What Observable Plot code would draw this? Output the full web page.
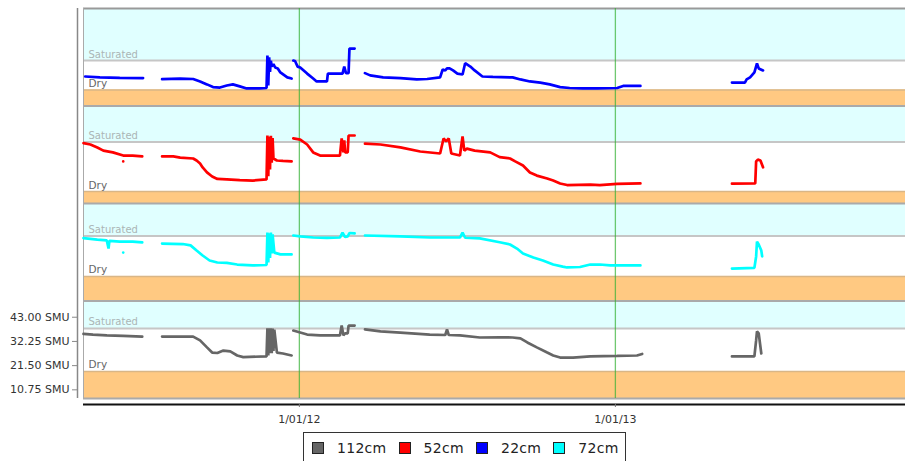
<!DOCTYPE html>
<html><head><meta charset="utf-8">
<script src="https://cdn.jsdelivr.net/npm/d3@7"></script>
<script src="https://cdn.jsdelivr.net/npm/@observablehq/plot@0.6"></script>
<style>
html,body{margin:0;padding:0;background:#fff;overflow:hidden;}
#wrap{position:relative;width:905px;height:461px;font-family:"DejaVu Sans",sans-serif;}
#chart{position:absolute;left:0;top:0;}
#legend{position:absolute;left:303px;top:432px;height:31px;border:1px solid #333;display:flex;align-items:center;padding:0 6px 0 8px;font-size:14px;color:#222;background:#fff;box-sizing:border-box;}
.item{display:flex;align-items:center;}
.sw{width:12px;height:12px;border:1px solid #222;box-sizing:border-box;display:inline-block;}
.lab{margin-left:13px;margin-right:12px;letter-spacing:0.3px;}
.item:last-child .lab{margin-right:0;}
</style></head>
<body><div id="wrap"><div id="chart"></div><div id="legend"></div></div>
<script>
// ---- data ----
const seriesNames = ["22cm", "52cm", "72cm", "112cm"];           // panels, top to bottom
const seriesColors = ["#0000ff", "#ff0000", "#00ffff", "#666666"];
const legendOrder = ["112cm", "52cm", "22cm", "72cm"];
const saturatedLevel = [27.1, 34.2, 35.8, 38.0];                 // SMU
const dryLevel = [14.0, 12.2, 17.8, 18.9];                       // SMU
const yTicks = [10.75, 21.5, 32.25, 43.0];
const xTicks = ["2012-01-01", "2013-01-01"];

const d22 = [["2011-04-28",20.0],["2011-05-15",19.6],["2011-06-07",19.4],["2011-07-04",19.3],["2011-07-15",null],
["2011-07-26",18.8],["2011-08-16",19.1],["2011-08-31",18.9],["2011-09-08",17.8],["2011-09-16",16.5],["2011-09-23",15.3],["2011-10-01",15.1],["2011-10-09",16.0],["2011-10-16",16.5],["2011-10-24",15.6],["2011-11-01",14.7],["2011-11-16",14.7],["2011-11-24",14.9],["2011-11-25",29.3],["2011-11-26",16.0],["2011-11-27",28.5],["2011-11-28",22.0],["2011-11-29",27.0],["2011-11-30",24.5],["2011-12-02",25.5],["2011-12-04",24.0],["2011-12-07",23.6],["2011-12-10",21.8],["2011-12-18",19.6],["2011-12-23",19.1],["2011-12-24",null],
["2011-12-25",27.1],["2011-12-27",26.9],["2011-12-30",24.4],["2012-01-02",24.0],["2012-01-10",21.3],["2012-01-17",19.1],["2012-01-21",17.8],["2012-02-02",17.8],["2012-02-03",21.3],["2012-02-20",21.3],["2012-02-22",24.4],["2012-02-24",21.5],["2012-02-27",21.5],["2012-02-28",32.4],["2012-03-05",32.4],["2012-03-10",null],
["2012-03-17",21.5],["2012-03-23",20.5],["2012-04-07",19.6],["2012-04-27",19.3],["2012-05-16",18.7],["2012-05-28",18.9],["2012-06-12",19.6],["2012-06-15",23.1],["2012-06-18",22.7],["2012-06-20",23.6],["2012-06-23",23.6],["2012-06-27",22.7],["2012-07-02",21.3],["2012-07-08",20.9],["2012-07-11",25.9],["2012-07-17",24.4],["2012-07-22",22.7],["2012-07-31",20.0],["2012-08-12",19.8],["2012-09-04",19.6],["2012-09-13",18.7],["2012-09-24",17.8],["2012-10-06",17.3],["2012-10-17",16.5],["2012-10-29",15.3],["2012-11-09",14.9],["2012-11-24",14.7],["2012-12-11",14.7],["2013-01-03",14.9],["2013-01-10",15.8],["2013-01-30",15.8],["2013-02-15",null],
["2013-05-16",17.3],["2013-05-31",17.3],["2013-06-02",18.7],["2013-06-06",19.6],["2013-06-11",21.8],["2013-06-14",25.8],["2013-06-16",23.6],["2013-06-21",22.7]];

const d52 = [["2011-04-26",33.7],["2011-05-04",33.1],["2011-05-12",31.8],["2011-05-19",30.4],["2011-05-30",29.6],["2011-06-11",28.2],["2011-06-22",28.2],["2011-07-03",27.8],["2011-07-15",null],
["2011-07-26",27.8],["2011-08-08",27.8],["2011-08-16",27.3],["2011-08-31",26.9],["2011-09-04",26.0],["2011-09-08",24.7],["2011-09-11",22.9],["2011-09-16",20.7],["2011-09-22",18.9],["2011-09-28",17.8],["2011-10-09",17.6],["2011-10-24",17.3],["2011-11-08",17.1],["2011-11-24",17.6],["2011-11-25",37.1],["2011-11-26",19.0],["2011-11-27",36.5],["2011-11-28",22.0],["2011-11-29",37.0],["2011-11-30",25.0],["2011-12-01",36.0],["2011-12-02",26.9],["2011-12-06",26.0],["2011-12-13",25.8],["2011-12-23",25.6],["2011-12-24",null],
["2011-12-25",35.8],["2012-01-02",35.3],["2012-01-10",33.1],["2012-01-17",29.6],["2012-01-25",28.2],["2012-02-17",28.2],["2012-02-19",35.8],["2012-02-21",29.6],["2012-02-22",35.0],["2012-02-23",29.6],["2012-02-26",29.6],["2012-02-27",37.1],["2012-03-05",37.1],["2012-03-10",null],
["2012-03-17",33.5],["2012-04-04",33.1],["2012-04-27",31.8],["2012-05-20",30.0],["2012-06-12",29.1],["2012-06-16",35.8],["2012-06-19",34.5],["2012-06-22",35.8],["2012-06-25",29.1],["2012-07-05",28.2],["2012-07-08",36.7],["2012-07-10",30.4],["2012-07-13",31.3],["2012-07-22",30.4],["2012-08-09",29.6],["2012-08-20",27.5],["2012-09-01",26.9],["2012-09-07",25.6],["2012-09-16",23.8],["2012-09-24",20.7],["2012-10-02",19.3],["2012-10-14",18.0],["2012-10-21",17.1],["2012-10-29",15.8],["2012-11-06",15.1],["2012-12-03",15.3],["2012-12-14",15.1],["2013-01-03",15.6],["2013-01-30",15.8],["2013-02-15",null],
["2013-05-16",15.7],["2013-06-12",15.8],["2013-06-13",25.6],["2013-06-15",26.4],["2013-06-18",26.0],["2013-06-21",23.0]];

const d72 = [["2011-04-26",34.8],["2011-05-12",34.2],["2011-05-23",33.8],["2011-05-25",30.2],["2011-05-26",33.6],["2011-06-07",33.3],["2011-06-22",33.3],["2011-07-03",32.9],["2011-07-15",null],
["2011-07-26",32.4],["2011-08-19",32.2],["2011-08-28",31.6],["2011-09-04",29.3],["2011-09-11",27.1],["2011-09-19",24.9],["2011-09-28",24.0],["2011-10-09",23.8],["2011-10-21",23.1],["2011-11-08",22.7],["2011-11-24",22.9],["2011-11-25",37.3],["2011-11-26",24.0],["2011-11-27",37.0],["2011-11-28",26.0],["2011-11-29",37.3],["2011-11-30",28.0],["2011-12-01",36.5],["2011-12-03",28.4],["2011-12-10",27.6],["2011-12-23",27.6],["2011-12-24",null],
["2011-12-25",36.0],["2012-01-02",35.6],["2012-01-17",35.1],["2012-02-02",34.9],["2012-02-17",35.1],["2012-02-20",37.3],["2012-02-23",35.3],["2012-02-26",35.6],["2012-02-28",37.1],["2012-03-05",36.9],["2012-03-10",null],
["2012-03-17",36.0],["2012-04-27",35.6],["2012-05-31",35.1],["2012-07-05",35.1],["2012-07-08",37.3],["2012-07-11",35.0],["2012-07-28",34.7],["2012-08-20",33.0],["2012-09-01",32.0],["2012-09-09",30.2],["2012-09-16",28.0],["2012-09-28",26.2],["2012-10-09",24.9],["2012-10-21",23.1],["2012-11-01",22.2],["2012-11-06",21.8],["2012-11-21",22.0],["2012-12-03",23.1],["2012-12-14",23.1],["2012-12-26",22.7],["2013-01-30",22.7],["2013-02-15",null],
["2013-05-16",21.3],["2013-06-11",21.6],["2013-06-13",26.7],["2013-06-14",33.3],["2013-06-16",32.0],["2013-06-19",29.3],["2013-06-20",26.7]];

const d112 = [["2011-04-26",35.6],["2011-05-07",35.3],["2011-05-23",34.9],["2011-06-11",34.7],["2011-07-03",34.4],["2011-07-15",null],
["2011-07-26",34.4],["2011-08-31",34.4],["2011-09-08",32.7],["2011-09-16",29.6],["2011-09-22",27.3],["2011-09-28",27.1],["2011-10-05",28.2],["2011-10-13",27.8],["2011-10-21",26.0],["2011-10-28",25.3],["2011-11-24",25.6],["2011-11-25",38.1],["2011-11-26",26.0],["2011-11-27",38.1],["2011-11-28",27.0],["2011-11-29",38.1],["2011-11-30",27.0],["2011-12-01",38.0],["2011-12-02",28.0],["2011-12-03",37.5],["2011-12-06",27.3],["2011-12-13",26.9],["2011-12-23",26.0],["2011-12-24",null],
["2011-12-25",37.1],["2012-01-02",36.2],["2012-01-10",35.3],["2012-01-25",34.9],["2012-02-17",34.9],["2012-02-19",39.3],["2012-02-21",35.0],["2012-02-23",35.8],["2012-02-26",35.8],["2012-02-27",39.3],["2012-03-05",39.3],["2012-03-10",null],
["2012-03-17",37.6],["2012-04-04",36.7],["2012-04-27",36.2],["2012-05-31",35.3],["2012-06-18",35.1],["2012-06-20",37.6],["2012-06-22",35.1],["2012-07-05",34.9],["2012-07-28",34.0],["2012-08-20",34.1],["2012-09-04",34.0],["2012-09-13",33.6],["2012-09-21",31.8],["2012-10-02",29.6],["2012-10-14",27.3],["2012-10-21",26.0],["2012-10-29",25.1],["2012-11-13",25.1],["2012-12-03",25.6],["2013-01-03",25.8],["2013-01-26",26.0],["2013-02-01",26.7],["2013-02-15",null],
["2013-05-16",25.6],["2013-06-11",25.6],["2013-06-13",32.7],["2013-06-14",36.7],["2013-06-16",35.8],["2013-06-19",26.9]];

const outliers52 = [["2011-06-11",25.6]];
const outliers72 = [["2011-06-11",28.4]];

// ---- layout (stacked panels share one SMU scale, offset per panel) ----
const Y0 = 6.9, SPAN = 43.31;
const xDomain = [new Date("2011-04-26"), new Date("2013-12-03")];
const seriesData = {"22cm": d22, "52cm": d52, "72cm": d72, "112cm": d112};
const outlierData = {"52cm": outliers52, "72cm": outliers72};
const offsetOf = i => (seriesNames.length - 1 - i) * SPAN;

const rows = seriesNames.flatMap((name, i) => seriesData[name].map(([d, v]) => ({
  name, date: new Date(d), y: v == null ? NaN : v + offsetOf(i)
})));
const dotRows = seriesNames.flatMap((name, i) => (outlierData[name] || []).map(([d, v]) => ({
  name, date: new Date(d), y: v + offsetOf(i)
})));
const panels = seriesNames.map((name, i) => ({
  name,
  sat: saturatedLevel[i] + offsetOf(i),
  dry: dryLevel[i] + offsetOf(i),
  bottom: Y0 + offsetOf(i),
  top: Y0 + SPAN + offsetOf(i)
}));

const chart = Plot.plot({
  width: 905, height: 432,
  marginTop: 8, marginBottom: 34, marginLeft: 83, marginRight: 0,
  x: {type: "utc", domain: xDomain},
  y: {domain: [Y0, Y0 + seriesNames.length * SPAN]},
  color: {domain: seriesNames, range: seriesColors},
  style: {fontFamily: "DejaVu Sans", fontSize: "11px", color: "#333", background: "transparent"},
  marks: [
    Plot.rect(panels, {y1: "sat", y2: "top", fill: "#e0ffff"}),
    Plot.rect(panels, {y1: "bottom", y2: "dry", fill: "#ffc982"}),
    Plot.ruleY(panels, {y: "sat", stroke: "#c6c6c6", strokeWidth: 2}),
    Plot.ruleY(panels, {y: "dry", stroke: "#d9b686", strokeWidth: 1.5}),
    Plot.ruleY(panels, {y: "bottom", stroke: "#aaaaaa", strokeWidth: 2}),
    Plot.ruleY([Y0 + seriesNames.length * SPAN], {stroke: "#999", strokeWidth: 2}),
    Plot.ruleX([xDomain[0]], {stroke: "#aaa", strokeWidth: 1}),
    Plot.ruleX([xDomain[0]], {dx: -6, stroke: "#888", strokeWidth: 1.5}),
    Plot.text(panels, {y: "sat", text: () => "Saturated", frameAnchor: "left", textAnchor: "start",
      lineAnchor: "bottom", dx: 5, dy: -3, fill: "#abb5b5", fontSize: 10}),
    Plot.text(panels, {y: "dry", text: () => "Dry", frameAnchor: "left", textAnchor: "start",
      lineAnchor: "bottom", dx: 5, dy: -3, fill: "#666", fontSize: 10.5}),
    Plot.ruleX(xTicks.map(d => new Date(d)), {stroke: "#33b033", strokeOpacity: 0.7, strokeWidth: 1.3}),
    Plot.line(rows, {x: "date", y: "y", z: "name", stroke: "name", strokeWidth: 2.7, strokeLinejoin: "miter"}),
    Plot.dot(dotRows, {x: "date", y: "y", fill: "name", r: 1.3}),
    Plot.ruleY([Y0], {dy: 6, stroke: "#111", strokeWidth: 2}),
    Plot.axisX({ticks: xTicks.map(d => new Date(d)), tickFormat: d3.utcFormat("%-d/%m/%y"),
      dy: 6, tickSize: 3, tickPadding: 8, stroke: "#777", label: null}),
    Plot.axisY({ticks: yTicks, tickFormat: d => d.toFixed(2) + " SMU", dx: -6,
      tickSize: 5, tickPadding: 3, stroke: "#888", label: null})
  ]
});
document.getElementById("chart").appendChild(chart);

const legend = d3.select("#legend");
legendOrder.forEach(name => {
  const item = legend.append("div").attr("class", "item");
  item.append("span").attr("class", "sw").style("background", seriesColors[seriesNames.indexOf(name)]);
  item.append("span").attr("class", "lab").text(name);
});
</script></body></html>
